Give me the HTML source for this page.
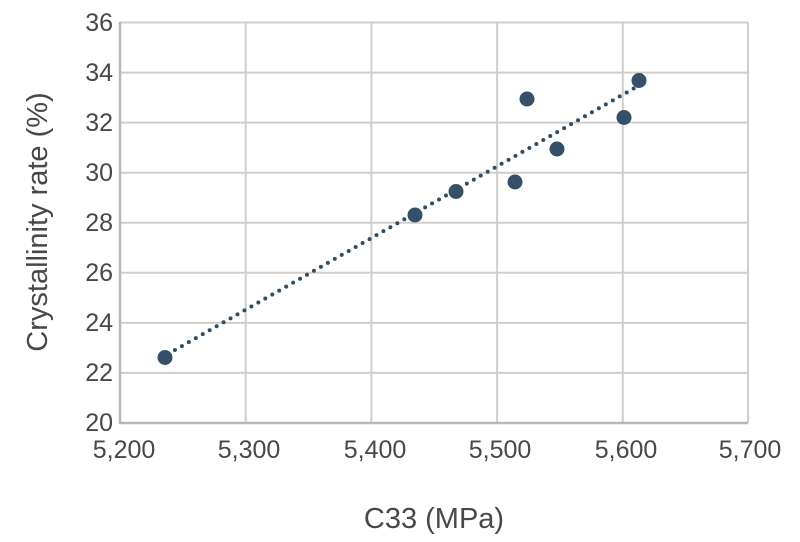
<!DOCTYPE html>
<html><head><style>body{margin:0;background:#fff}svg{display:block}text{font-family:"Liberation Sans Narrow","Liberation Sans",sans-serif;fill:#4a4846}</style></head>
<body>
<svg width="800" height="542" viewBox="0 0 800 542">
<g stroke="#d3cdc9" stroke-width="2" fill="none">
<line x1="120" y1="22.5" x2="748" y2="22.5"/>
<line x1="120" y1="72.6" x2="748" y2="72.6"/>
<line x1="120" y1="122.6" x2="748" y2="122.6"/>
<line x1="120" y1="172.7" x2="748" y2="172.7"/>
<line x1="120" y1="222.8" x2="748" y2="222.8"/>
<line x1="120" y1="272.8" x2="748" y2="272.8"/>
<line x1="120" y1="322.9" x2="748" y2="322.9"/>
<line x1="120" y1="372.9" x2="748" y2="372.9"/>
<line x1="245.7" y1="22.5" x2="245.7" y2="423"/>
<line x1="371.4" y1="22.5" x2="371.4" y2="423"/>
<line x1="497.1" y1="22.5" x2="497.1" y2="423"/>
<line x1="622.8" y1="22.5" x2="622.8" y2="423"/>
<line x1="748" y1="22.5" x2="748" y2="423"/>
</g>
<g stroke="#bdb6b2" stroke-width="2.5"><line x1="120" y1="22" x2="120" y2="424"/><line x1="119" y1="423" x2="748" y2="423"/></g>
<line x1="168" y1="354" x2="638" y2="86" stroke="#2f4d63" stroke-width="4" stroke-dasharray="0 8" stroke-linecap="round"/>
<g fill="#355068">
<circle cx="165" cy="357.5" r="7.5"/><circle cx="415" cy="215" r="7.5"/><circle cx="456" cy="191.5" r="7.5"/><circle cx="515" cy="182" r="7.5"/><circle cx="527" cy="99" r="7.5"/><circle cx="557" cy="149" r="7.5"/><circle cx="624" cy="117.5" r="7.5"/><circle cx="639" cy="80.5" r="7.5"/>
</g>
<g font-size="25" text-anchor="end">
<text x="113" y="31">36</text><text x="113" y="81">34</text><text x="113" y="131">32</text><text x="113" y="181">30</text><text x="113" y="231">28</text><text x="113" y="281">26</text><text x="113" y="331">24</text><text x="113" y="381">22</text><text x="113" y="431">20</text>
</g>
<g font-size="25" text-anchor="middle">
<text x="124" y="458">5,200</text><text x="249" y="458">5,300</text><text x="375" y="458">5,400</text><text x="500" y="458">5,500</text><text x="626" y="458">5,600</text><text x="750" y="458">5,700</text>
</g>
<text x="434" y="528" font-size="29" text-anchor="middle">C33 (MPa)</text>
<text transform="translate(47,222) rotate(-90)" font-size="29" text-anchor="middle">Crystallinity rate (%)</text>
</svg>
</body></html>
